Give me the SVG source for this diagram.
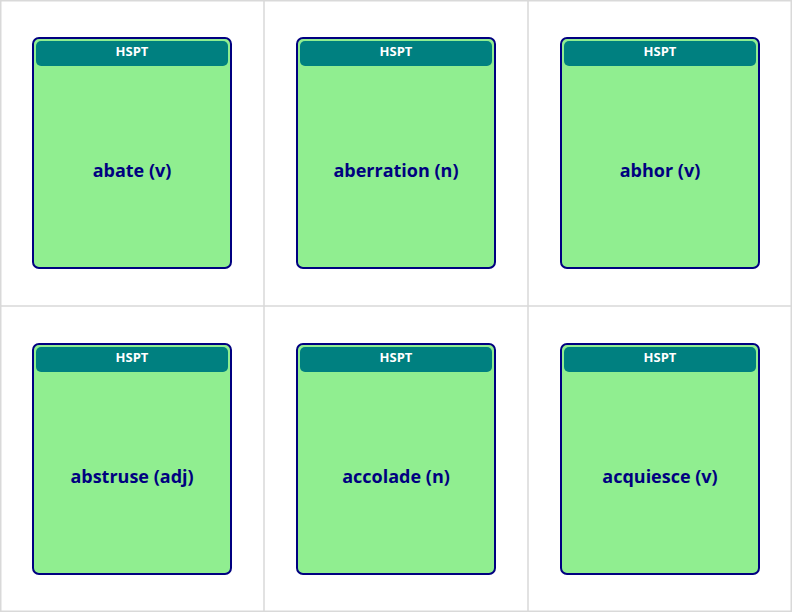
<svg xmlns="http://www.w3.org/2000/svg" width="792" height="612" viewBox="0 0 792 612">
<style>
.grid{stroke:#d9d9d9;stroke-width:1.5;fill:none}
.card{fill:#90ee90;stroke:#000080;stroke-width:2}
.hdr{fill:#008080}
.ht{font-family:"Open Sans","Liberation Sans",sans-serif;font-weight:700;font-size:13px;fill:#fff;text-anchor:middle}
.wt{font-family:"Open Sans","Liberation Sans",sans-serif;font-weight:700;font-size:18px;fill:#000080;text-anchor:middle}
</style>
<rect width="792" height="612" fill="#fff"/>
<g id="grid">
<rect class="grid" x="0.75" y="0.75" width="790.5" height="610.5"/>
<line class="grid" x1="264" y1="0" x2="264" y2="612"/>
<line class="grid" x1="528" y1="0" x2="528" y2="612"/>
<line class="grid" x1="0" y1="306" x2="792" y2="306"/>
</g>
<defs>
<g id="c">
<rect class="card" x="33" y="38" width="198" height="230" rx="6"/>
<rect class="hdr" x="36" y="41" width="192" height="25" rx="5"/>
<text class="ht" x="132" y="56">HSPT</text>
</g>
</defs>
<g id="n1"><use href="#c"/><text class="wt" x="132" y="177">abate (v)</text></g>
<g id="n2" transform="translate(264,0)"><use href="#c"/><text class="wt" x="132" y="177">aberration (n)</text></g>
<g id="n3" transform="translate(528,0)"><use href="#c"/><text class="wt" x="132" y="177">abhor (v)</text></g>
<g id="n4" transform="translate(0,306)"><use href="#c"/><text class="wt" x="132" y="177">abstruse (adj)</text></g>
<g id="n5" transform="translate(264,306)"><use href="#c"/><text class="wt" x="132" y="177">accolade (n)</text></g>
<g id="n6" transform="translate(528,306)"><use href="#c"/><text class="wt" x="132" y="177">acquiesce (v)</text></g>
<g id="connectors"/>
</svg>
